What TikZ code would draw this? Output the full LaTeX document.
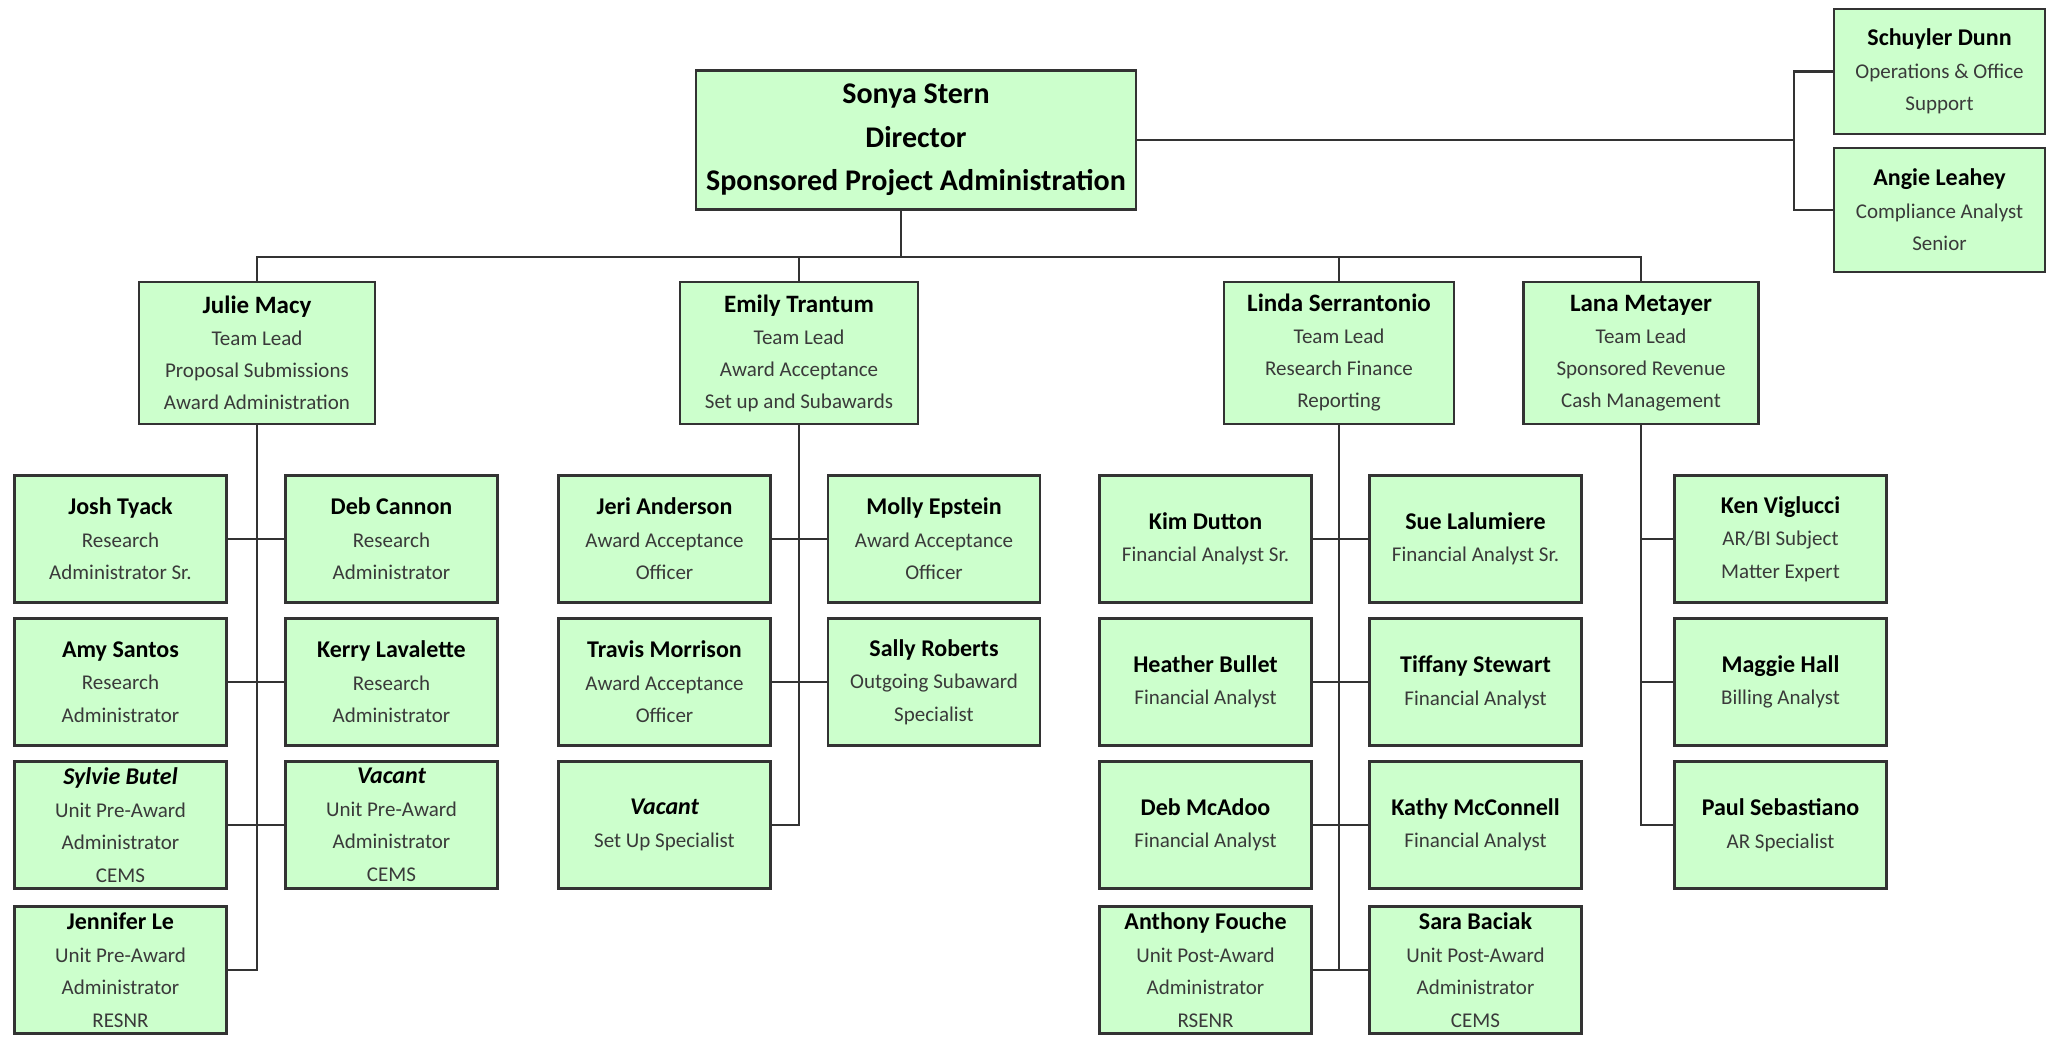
\documentclass[tikz,border=0pt]{standalone}
\usepackage{fontspec}
\setmainfont{Carlito}
\definecolor{boxgreen}{HTML}{CCFFCC}
\definecolor{boxline}{HTML}{333333}
\definecolor{subtext}{HTML}{3A3A3A}
\newcommand{\who}[1]{{\color{black}\fontsize{24}{32.5}\selectfont\bfseries #1}}
\newcommand{\whoit}[1]{{\color{black}\fontsize{24}{32.5}\selectfont\bfseries\itshape #1}}
\newcommand{\chief}[1]{{\color{black}\fontsize{25}{32}\selectfont\bfseries #1}}

\begin{document}
\begin{tikzpicture}[x=1pt,y=-1pt,
  person/.style={draw=boxline, line width=2.5pt, fill=boxgreen, align=center, inner sep=0pt,
    minimum width=212pt, minimum height=127pt, text=subtext, font=\fontsize{21}{32.5}\selectfont},
  lead/.style={person, minimum width=236pt, minimum height=142pt, font=\fontsize{21}{32}\selectfont},
  director/.style={person, minimum width=440pt, minimum height=139pt, text=black,
    font=\fontsize{30}{43.5}\selectfont\bfseries},
  link/.style={draw=boxline, line width=2.2pt}]
\useasboundingbox (0,0) rectangle (2047,1037);
\node[director] (sonya) at (916,140) {Sonya Stern\\Director\\Sponsored Project Administration};
\node[person, minimum width=211pt, minimum height=125pt] (schuyler) at (1939.5,71.5) {\who{Schuyler Dunn}\\Operations \& Office\\Support};
\node[person, minimum width=211pt, minimum height=124pt] (angie) at (1939.5,210) {\who{Angie Leahey}\\Compliance Analyst\\Senior};

\node[lead] (julie) at (257,353) {\chief{Julie Macy}\\Team Lead\\Proposal Submissions\\Award Administration};
\node[lead, minimum width=238pt] (emily) at (799,353) {\chief{Emily Trantum}\\Team Lead\\Award Acceptance\\Set up and Subawards};
\node[lead, minimum width=230pt] (linda) at (1339,353) {\chief{Linda Serrantonio}\\Team Lead\\Research Finance\\Reporting};
\node[lead, minimum width=235pt] (lana) at (1641,353) {\chief{Lana Metayer}\\Team Lead\\Sponsored Revenue\\Cash Management};

\node[person] (josh) at (120.5,539) {\who{Josh Tyack}\\Research\\Administrator Sr.};
\node[person] (deb) at (391.5,539) {\who{Deb Cannon}\\Research\\Administrator};
\node[person] (amy) at (120.5,682) {\who{Amy Santos}\\Research\\Administrator};
\node[person] (kerry) at (391.5,682) {\who{Kerry Lavalette}\\Research\\Administrator};
\node[person] (sylvie) at (120.5,825) {\whoit{Sylvie Butel}\\Unit Pre-Award\\Administrator\\CEMS};
\node[person] (vacantpre) at (391.5,825) {\whoit{Vacant}\\Unit Pre-Award\\Administrator\\CEMS};
\node[person] (jennifer) at (120.5,970) {\who{Jennifer Le}\\Unit Pre-Award\\Administrator\\RESNR};

\node[person] (jeri) at (664.5,539) {\who{Jeri Anderson}\\Award Acceptance\\Officer};
\node[person] (molly) at (934,539) {\who{Molly Epstein}\\Award Acceptance\\Officer};
\node[person] (travis) at (664.5,682) {\who{Travis Morrison}\\Award Acceptance\\Officer};
\node[person] (sally) at (934,682) {\who{Sally Roberts}\\Outgoing Subaward\\Specialist};
\node[person] (vacantsetup) at (664.5,825) {\whoit{Vacant}\\Set Up Specialist};

\node[person] (kim) at (1205.5,539) {\who{Kim Dutton}\\Financial Analyst Sr.};
\node[person] (sue) at (1475.5,539) {\who{Sue Lalumiere}\\Financial Analyst Sr.};
\node[person] (heather) at (1205.5,682) {\who{Heather Bullet}\\Financial Analyst};
\node[person] (tiffany) at (1475.5,682) {\who{Tiffany Stewart}\\Financial Analyst};
\node[person] (debm) at (1205.5,825) {\who{Deb McAdoo}\\Financial Analyst};
\node[person] (kathy) at (1475.5,825) {\who{Kathy McConnell}\\Financial Analyst};
\node[person] (anthony) at (1205.5,970) {\who{Anthony Fouche}\\Unit Post-Award\\Administrator\\RSENR};
\node[person] (sara) at (1475.5,970) {\who{Sara Baciak}\\Unit Post-Award\\Administrator\\CEMS};

\node[person] (ken) at (1780.5,539) {\who{Ken Viglucci}\\AR/BI Subject\\Matter Expert};
\node[person] (maggie) at (1780.5,682) {\who{Maggie Hall}\\Billing Analyst};
\node[person] (paul) at (1780.5,825) {\who{Paul Sebastiano}\\AR Specialist};

\coordinate (bus) at (901,257);
\coordinate (side) at (1794,140);
\draw[link] (sonya.south -| bus) -- (bus);
\draw[link] (julie.north) |- (bus) -| (lana.north);
\draw[link] (emily.north) -- (emily.north |- bus);
\draw[link] (linda.north) -- (linda.north |- bus);
\draw[link] (sonya.east) -- (side);
\draw[link] (schuyler.west) -| (side) |- (angie.west);

\draw[link] (julie.south) |- (jennifer.east);
\draw[link] (josh.east) -- (deb.west);
\draw[link] (amy.east) -- (kerry.west);
\draw[link] (sylvie.east) -- (vacantpre.west);

\draw[link] (emily.south) |- (vacantsetup.east);
\draw[link] (jeri.east) -- (molly.west);
\draw[link] (travis.east) -- (sally.west);

\draw[link] (linda.south) |- (anthony.east);
\draw[link] (kim.east) -- (sue.west);
\draw[link] (heather.east) -- (tiffany.west);
\draw[link] (debm.east) -- (kathy.west);
\draw[link] (anthony.east) -- (sara.west);

\draw[link] (lana.south) |- (paul.west);
\draw[link] (lana.south |- ken.west) -- (ken.west);
\draw[link] (lana.south |- maggie.west) -- (maggie.west);
\end{tikzpicture}
\end{document}
